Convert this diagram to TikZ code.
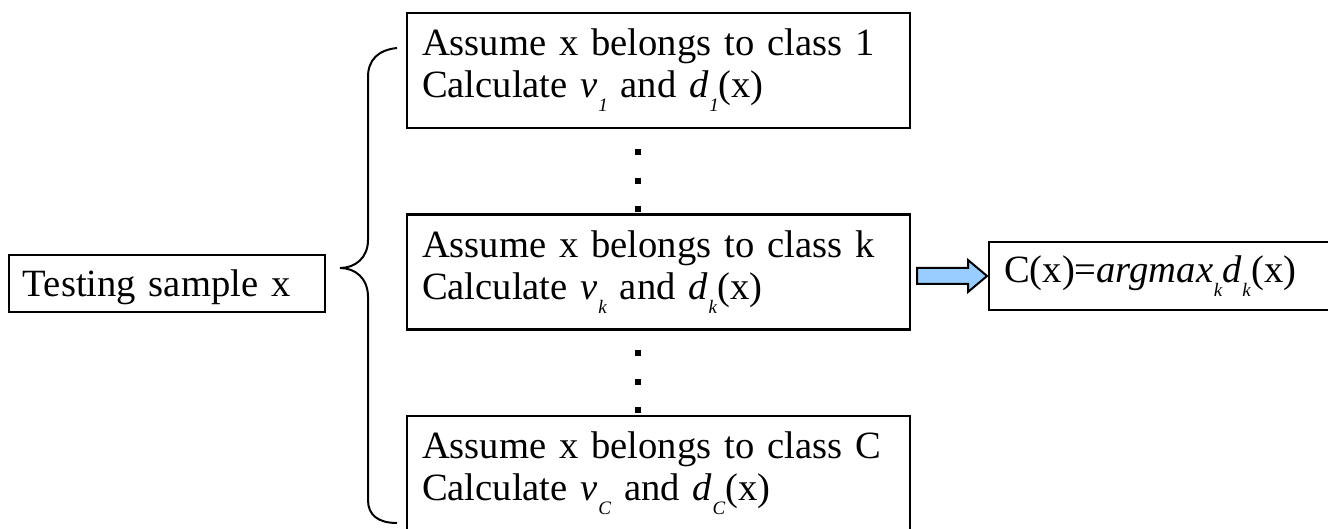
\documentclass[tikz,border=0pt]{standalone}
\usepackage{fontspec}
\setmainfont{Liberation Serif}
\usepackage{xcolor}
\usepackage{tikz}
\usetikzlibrary{calc}

\definecolor{arrowblue}{RGB}{153,204,255}
\newcommand{\lowsub}[1]{\kern0.3pt\raisebox{-0.36em}{\fontsize{9.5}{9.5}\selectfont\textit{#1}}}

\begin{document}
\begin{tikzpicture}[x=0.5pt, y=-0.5pt,
  every node/.style={font=\fontsize{19.3}{21}\selectfont},
  classbox/.style={draw, line width=1.15pt, minimum width=251.5pt, minimum height=57.5pt,
    text width=236.5pt, inner xsep=7.5pt}]
  \useasboundingbox (0,0) rectangle (1328,529);
  % input and the class boxes
  \node[draw, line width=1.15pt, minimum width=158pt, minimum height=28.5pt, text width=144pt,
    inner xsep=7pt, text depth=0pt] (test) at (167,283.5) {Testing sample x};
  \node[classbox] (c1) at (658.5,70.5) {Assume x belongs to class 1\\Calculate \textit{v}\lowsub{1} and \textit{d}\lowsub{1}(x)};
  \node[classbox] (ck) at (658.5,272) {Assume x belongs to class k\\Calculate \textit{v}\lowsub{k} and \textit{d}\lowsub{k}(x)};
  \node[classbox] (cC) at (658.5,473.5) {Assume x belongs to class C\\Calculate \textit{v}\lowsub{C} and \textit{d}\lowsub{C}(x)};
  \node[draw, line width=1.15pt, anchor=west, minimum width=173.5pt, minimum height=34pt, text width=158.5pt,
    inner xsep=7.5pt] (res) at (988,276) {C(x)=\textit{argmax}\lowsub{k}\textit{d}\lowsub{k}(x)};
  % brace
  \draw[line width=1pt] (397,48) .. controls (378,50) and (368,60) .. (368,77) -- (368,240)
    .. controls (368,258) and (355,268) .. (340,268) .. controls (355,268) and (368,278) .. (368,297)
    -- (368,500) .. controls (368,515) and (378,523) .. (397,523);
  % dots
  \fill (635,149) rectangle (641,155);
  \fill (635,178) rectangle (641,184);
  \fill (635,206) rectangle (641,212);
  \fill (635,350) rectangle (641,356);
  \fill (635,379) rectangle (641,385);
  \fill (635,407) rectangle (641,413);
  % block arrow
  \draw[fill=arrowblue, line width=1pt, line join=miter] ($(res.west)+(-71,-8)$) -- ($(res.west)+(-20,-8)$)
    -- ($(res.west)+(-20,-16)$) -- ($(res.west)+(-1,0)$) -- ($(res.west)+(-20,16)$)
    -- ($(res.west)+(-20,8)$) -- ($(res.west)+(-71,8)$) -- cycle;
\end{tikzpicture}
\end{document}
